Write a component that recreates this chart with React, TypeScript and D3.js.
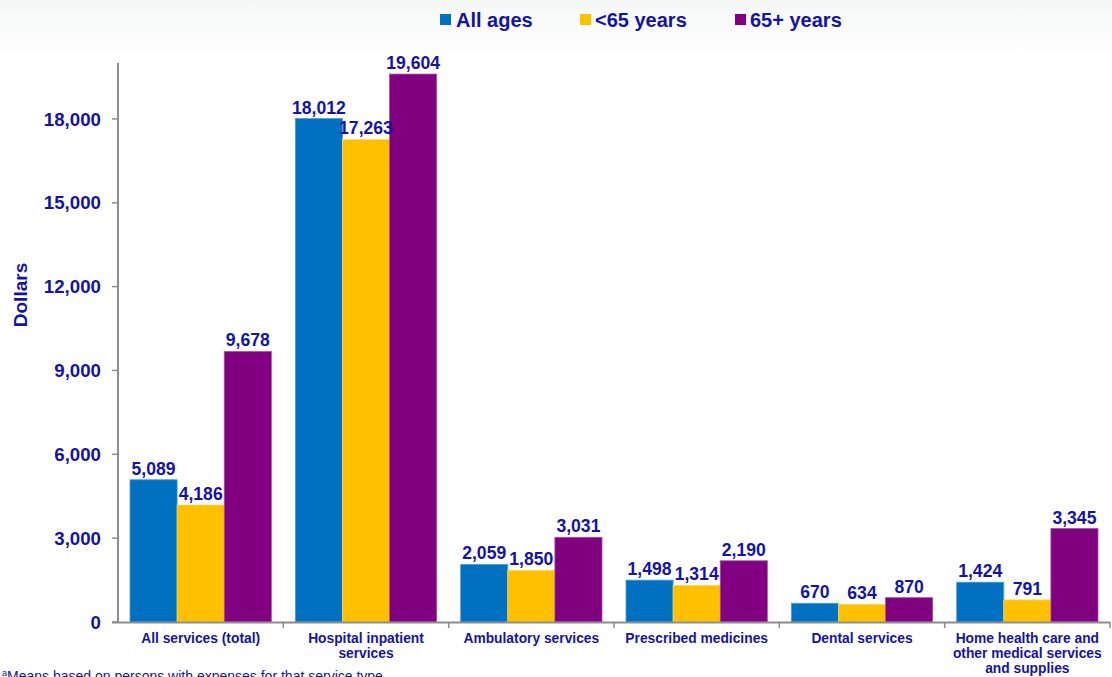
import React from "react";
import * as d3 from "d3";

const categories: string[][] = [
  ["All services (total)"],
  ["Hospital inpatient", "services"],
  ["Ambulatory services"],
  ["Prescribed medicines"],
  ["Dental services"],
  ["Home health care and", "other medical services", "and supplies"],
];
const seriesNames = ["All ages", "<65 years", "65+ years"];
const allAges = [5089, 18012, 2059, 1498, 670, 1424];
const under65 = [4186, 17263, 1850, 1314, 634, 791];
const over65 = [9678, 19604, 3031, 2190, 870, 3345];
const yTicks = [0, 3000, 6000, 9000, 12000, 15000, 18000];
const colors = ["#0070C0", "#FFC000", "#800080"];
const strokes = ["#4f9ad4", "#ffd766", "#a550a5"];

const W = 1112;
const H = 677;
const TEXT = "#1414A2";
const FONT = "'Liberation Sans', Arial, sans-serif";

export default function App() {
  const series = [allAges, under65, over65];
  const left = 118;
  const right = 1110;
  const x0 = d3
    .scaleBand<number>()
    .domain(categories.map((_, i) => i))
    .range([left, right])
    .padding(0);
  const bw = x0.bandwidth();
  const x1 = d3
    .scaleBand<number>()
    .domain([0, 1, 2])
    .range([12, bw - 12])
    .padding(0);
  const y = d3.scaleLinear().domain([0, 20000]).range([622, 63]);
  const fmt = d3.format(",");

  return (
    <div style={{ position: "fixed", left: 0, top: 0 }}>
      <svg width={W} height={H} style={{ display: "block", fontFamily: FONT }}>
        <defs>
          <linearGradient id="bg" x1="0" y1="0" x2="0" y2="1">
            <stop offset="0" stopColor="#f6f7f7" />
            <stop offset="1" stopColor="#ffffff" />
          </linearGradient>
        </defs>
        <rect x={0} y={0} width={W} height={H} fill="#ffffff" />
        <rect x={0} y={0} width={W} height={60} fill="url(#bg)" />

        {/* legend */}
        {[
          { sx: 440, tx: 456 },
          { sx: 580, tx: 595 },
          { sx: 735, tx: 750 },
        ].map((p, i) => (
          <g key={i}>
            <rect x={p.sx} y={14} width={11} height={11} fill={colors[i]} />
            <text x={p.tx} y={27} fontSize={20} fontWeight="bold" fill={TEXT}>
              {seriesNames[i]}
            </text>
          </g>
        ))}

        {/* y-axis title */}
        <text
          transform={`translate(27,295) rotate(-90)`}
          textAnchor="middle"
          fontSize={19}
          fontWeight="bold"
          fill={TEXT}
        >
          Dollars
        </text>

        {/* y ticks */}
        {yTicks.map((t) => (
          <g key={t}>
            <line x1={left - 6} x2={left} y1={y(t)} y2={y(t)} stroke="#8c8c8c" strokeWidth={1.5} />
            <text
              x={101}
              y={y(t)}
              dy="0.36em"
              textAnchor="end"
              fontSize={18.7}
              fontWeight="bold"
              fill={TEXT}
            >
              {fmt(t)}
            </text>
          </g>
        ))}

        {/* bars */}
        {categories.map((_, ci) => (
          <g key={ci} transform={`translate(${x0(ci)},0)`}>
            {series.map((s, si) => (
              <rect
                key={si}
                x={x1(si)}
                y={y(s[ci])}
                width={x1.bandwidth()}
                height={y(0) - y(s[ci])}
                fill={colors[si]}
                stroke={strokes[si]}
                strokeWidth={0.8}
              />
            ))}
            {series.map((s, si) => (
              <text
                key={"l" + si}
                x={(x1(si) as number) + x1.bandwidth() / 2}
                y={y(s[ci]) - 5}
                textAnchor="middle"
                fontSize={17.6}
                fontWeight="bold"
                fill={TEXT}
              >
                {fmt(s[ci])}
              </text>
            ))}
          </g>
        ))}

        {/* axes */}
        <line x1={left} x2={left} y1={63} y2={623} stroke="#8c8c8c" strokeWidth={2} />
        <line x1={left - 6} x2={right} y1={622.5} y2={622.5} stroke="#8c8c8c" strokeWidth={2} />
        {categories.map((_, ci) =>
          ci > 0 ? (
            <line
              key={ci}
              x1={x0(ci) as number}
              x2={x0(ci) as number}
              y1={622}
              y2={628}
              stroke="#8c8c8c"
              strokeWidth={1.5}
            />
          ) : null
        )}
        <line x1={right} x2={right} y1={622} y2={628} stroke="#8c8c8c" strokeWidth={1.5} />

        {/* category labels */}
        {categories.map((lines, ci) => (
          <text
            key={ci}
            x={(x0(ci) as number) + bw / 2}
            y={642.5}
            textAnchor="middle"
            fontSize={13.8}
            fontWeight="bold"
            fill={TEXT}
          >
            {lines.map((l, li) => (
              <tspan key={li} x={(x0(ci) as number) + bw / 2} dy={li === 0 ? 0 : 15.3}>
                {l}
              </tspan>
            ))}
          </text>
        ))}

        {/* footnote */}
        <text x={2} y={681} fontSize={14} fill={TEXT}>
          <tspan fontSize={9} dy={-5}>a</tspan>
          <tspan dy={5}>Means based on persons with expenses for that service type</tspan>
        </text>
      </svg>
    </div>
  );
}
